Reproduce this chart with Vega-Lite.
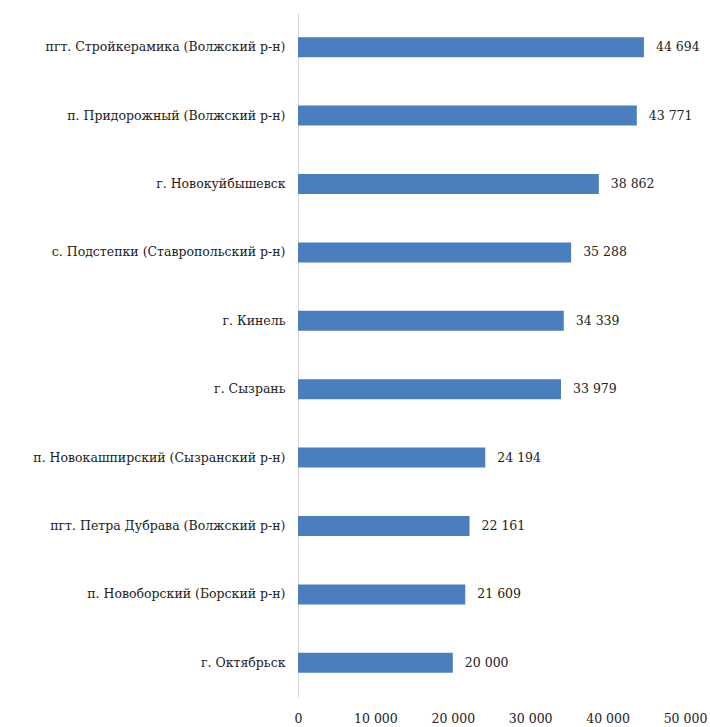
{
  "$schema": "https://vega.github.io/schema/vega-lite/v6.json",
  "autosize": "none",
  "padding": {"left": 298, "top": 13, "right": 25, "bottom": 30},
  "width": 387,
  "height": 684,
  "background": "white",
  "config": {
    "view": {"stroke": null},
    "locale": {"number": {"decimal": ",", "thousands": " ", "grouping": [3], "currency": ["", ""]}},
    "font": "DejaVu Serif"
  },
  "data": {
    "values": [
      {"place": "пгт. Стройкерамика  (Волжский р-н)", "value": 44694},
      {"place": "п. Придорожный  (Волжский р-н)", "value": 43771},
      {"place": "г. Новокуйбышевск", "value": 38862},
      {"place": "с. Подстепки (Ставропольский р-н)", "value": 35288},
      {"place": "г. Кинель", "value": 34339},
      {"place": "г. Сызрань", "value": 33979},
      {"place": "п. Новокашпирский  (Сызранский р-н)", "value": 24194},
      {"place": "пгт. Петра Дубрава (Волжский р-н)", "value": 22161},
      {"place": "п. Новоборский (Борский р-н)", "value": 21609},
      {"place": "г. Октябрьск", "value": 20000}
    ]
  },
  "encoding": {
    "y": {
      "field": "place", "type": "nominal", "sort": null,
      "scale": {"paddingInner": 0, "paddingOuter": 0},
      "axis": {
        "title": null, "ticks": false, "domainColor": "#d9d9d9", "domainWidth": 1,
        "labelPadding": 13, "labelFont": "DejaVu Serif", "labelFontSize": 12.5,
        "labelColor": "#222222", "labelLimit": 300
      }
    },
    "x": {
      "field": "value", "type": "quantitative",
      "scale": {"domain": [0, 50000], "nice": false},
      "axis": {
        "title": null, "grid": false, "domain": false, "ticks": false,
        "values": [0, 10000, 20000, 30000, 40000, 50000],
        "labelExpr": "format(datum.value, ',')",
        "labelPadding": 15, "labelFont": "DejaVu Serif", "labelFontSize": 12.5,
        "labelColor": "#222222", "labelFlush": false
      }
    }
  },
  "layer": [
    {"mark": {"type": "bar", "size": 20, "color": "#4a7ebf"}},
    {
      "mark": {"type": "text", "align": "left", "dx": 12, "font": "DejaVu Serif", "fontSize": 12.5, "color": "#222222"},
      "encoding": {"text": {"field": "value", "type": "quantitative", "format": ","}}
    }
  ]
}
